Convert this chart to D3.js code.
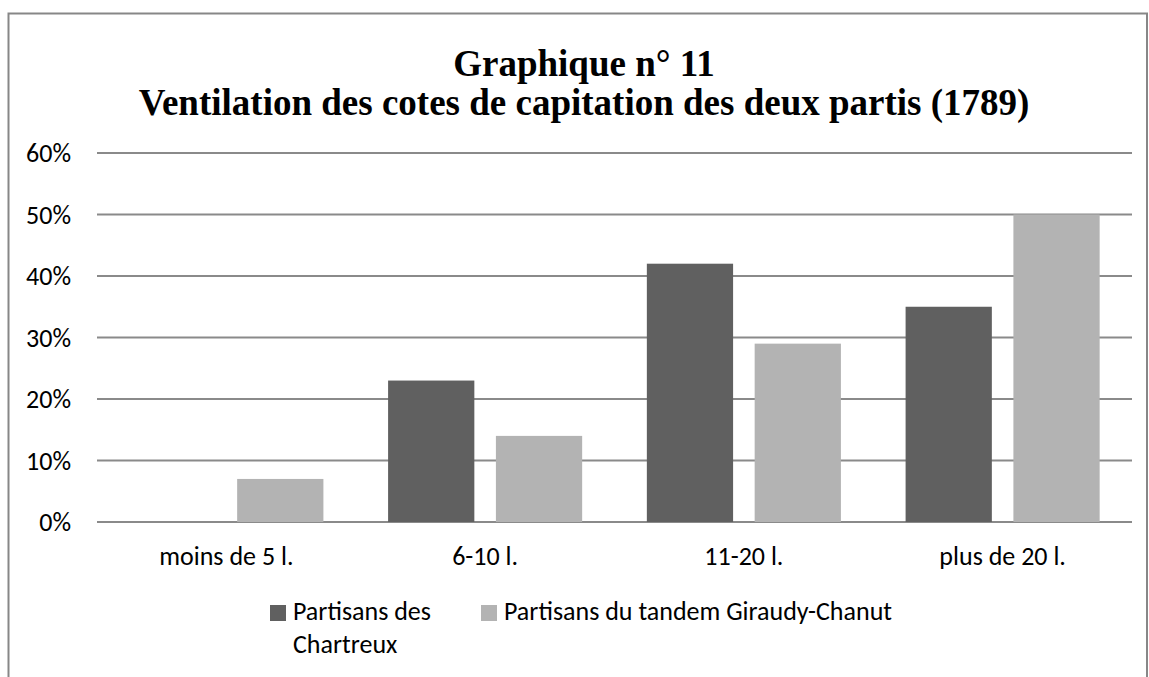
<!DOCTYPE html>
<html>
<head>
<meta charset="utf-8">
<script src="https://cdnjs.cloudflare.com/ajax/libs/d3/7.8.5/d3.min.js"></script>
<style>
  body { margin: 0; background: #fff; }
</style>
</head>
<body>
<script>
var width = 1149
var height = 677
var margin = { left: 97, top: 153, right: 17, bottom: 155 }

var categories = ['moins de 5 l.', '6-10 l.', '11-20 l.', 'plus de 20 l.']
var seriesNames = ['Partisans des Chartreux', 'Partisans du tandem Giraudy-Chanut']
var chartreux = [0, 0.23, 0.42, 0.35]
var giraudy = [0.07, 0.14, 0.29, 0.50]
var yTicks = [0, 0.1, 0.2, 0.3, 0.4, 0.5, 0.6]
var colors = ['#606060', '#b3b3b3']

var labelFont = "Carlito, Calibri, Lato, sans-serif"
var labelSize = 26

var svg = d3.select('body').append('svg').attr('width', width).attr('height', height)

// outer frame (bottom edge falls outside the picture)
svg.append('rect')
    .attr('x', 8.5).attr('y', 13.5).attr('width', 1138.5).attr('height', 700)
    .attr('fill', 'none').attr('stroke', '#878787').attr('stroke-width', 2)

// title
var title = svg.append('text')
    .attr('text-anchor', 'middle')
    .attr('font-family', "'Liberation Serif', 'Times New Roman', serif")
    .attr('font-weight', 'bold')
    .attr('font-size', 37)
    .attr('fill', '#000')
title.append('tspan').attr('x', 584).attr('y', 76).text('Graphique n° 11')
title.append('tspan').attr('x', 584).attr('y', 115).text('Ventilation des cotes de capitation des deux partis (1789)')

var innerWidth = width - margin.left - margin.right
var innerHeight = height - margin.top - margin.bottom
var g = svg.append('g').attr('transform', `translate(${margin.left},${margin.top})`)

var yScale = d3.scaleLinear().domain([0, 0.6]).range([innerHeight, 0])
var x0 = d3.scaleBand().domain(categories).range([0, innerWidth]).paddingInner(0.25).paddingOuter(0.125)
var x1 = d3.scaleBand().domain(seriesNames).range([0, x0.bandwidth()]).paddingInner(0.2)

// gridlines
g.append('g').selectAll('line').data(yTicks).enter().append('line')
    .attr('x1', 0).attr('x2', innerWidth)
    .attr('y1', d => yScale(d)).attr('y2', d => yScale(d))
    .attr('stroke', '#8a8a8a').attr('stroke-width', 2)

// y labels
g.append('g').selectAll('text').data(yTicks).enter().append('text')
    .attr('x', -26).attr('y', d => yScale(d) + 9)
    .attr('text-anchor', 'end')
    .attr('font-family', labelFont).attr('font-size', labelSize).attr('fill', '#000')
    .text(d => d3.format('.0%')(d))

var rows = categories.map((c, i) => ({ cat: c, vals: [chartreux[i], giraudy[i]] }))

var groups = g.selectAll('.grp').data(rows).enter().append('g')
    .attr('transform', d => `translate(${x0(d.cat)},0)`)
groups.selectAll('rect').data(d => d.vals.map((v, j) => ({ s: seriesNames[j], v: v, j: j }))).enter().append('rect')
    .attr('x', d => x1(d.s))
    .attr('width', x1.bandwidth())
    .attr('y', d => yScale(d.v))
    .attr('height', d => innerHeight - yScale(d.v))
    .attr('fill', d => colors[d.j])

// x labels
var xAxis = d3.axisBottom(x0).tickSize(0).tickPadding(0)
var xg = g.append('g').attr('transform', `translate(0,${innerHeight})`).call(xAxis)
xg.select('.domain').remove()
xg.selectAll('text')
    .attr('y', 43).attr('dy', 0)
    .attr('font-family', labelFont).attr('font-size', labelSize).attr('fill', '#000')

// legend
var legend = svg.append('g')
var legendX = [270, 481]
legend.selectAll('rect').data(seriesNames).enter().append('rect')
    .attr('x', (d, i) => legendX[i]).attr('y', 605)
    .attr('width', 16).attr('height', 16)
    .attr('fill', (d, i) => colors[i])
var legendLines = [['Partisans des', 'Chartreux'], ['Partisans du tandem Giraudy-Chanut']]
legend.selectAll('text').data(legendLines).enter().append('text')
    .attr('font-family', labelFont).attr('font-size', labelSize).attr('fill', '#000')
    .each(function (lines, i) {
        d3.select(this).selectAll('tspan').data(lines).enter().append('tspan')
            .attr('x', legendX[i] + 23).attr('y', (d, k) => 620 + k * 33)
            .text(d => d)
    })
</script>
</body>
</html>
